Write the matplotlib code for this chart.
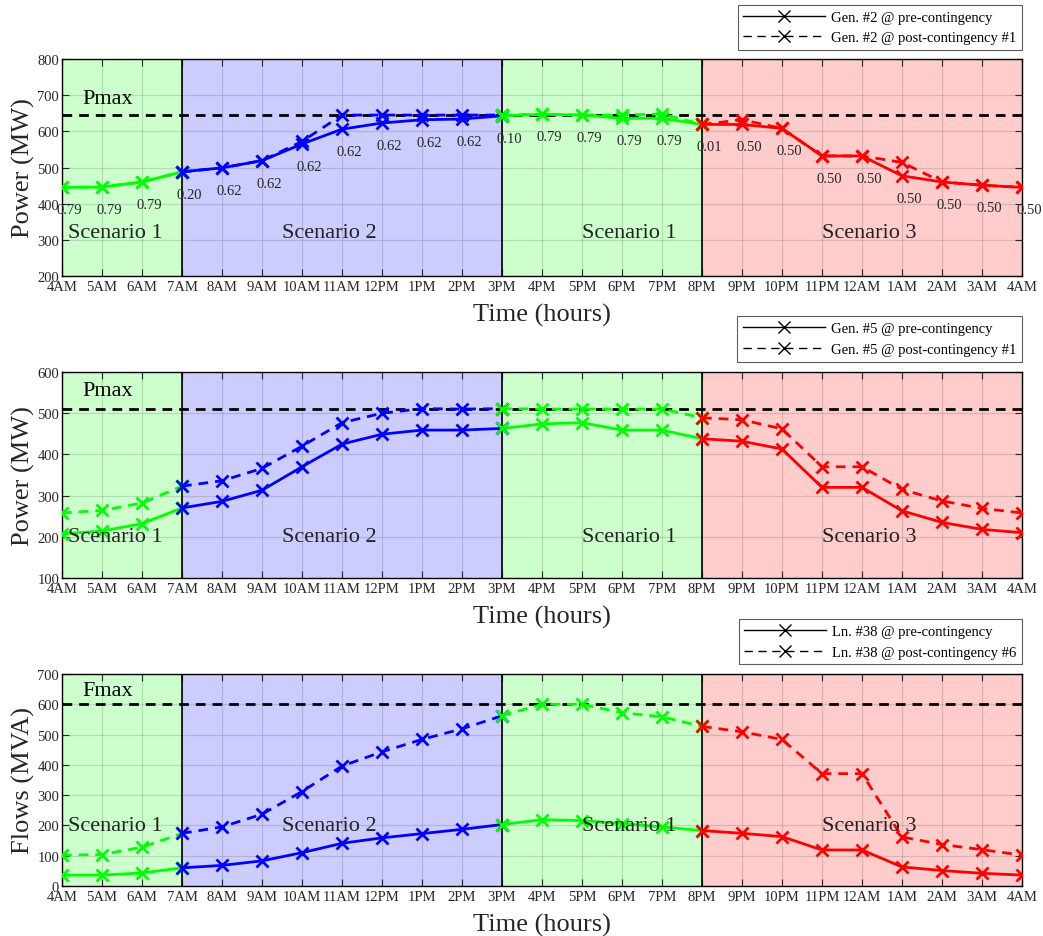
import matplotlib
matplotlib.use("Agg")
import matplotlib.pyplot as plt
from matplotlib.lines import Line2D

plt.rcParams['font.family'] = ['Liberation Serif', 'DejaVu Serif']

hours = ['4AM', '5AM', '6AM', '7AM', '8AM', '9AM', '10AM', '11AM', '12PM', '1PM', '2PM', '3PM',
         '4PM', '5PM', '6PM', '7PM', '8PM', '9PM', '10PM', '11PM', '12AM', '1AM', '2AM', '3AM', '4AM']

gen2_pre = [445, 446, 460, 488, 499, 519, 565, 606, 623, 632, 634, 643,
            647, 645, 636, 636, 619, 619, 608, 532, 532, 477, 460, 451, 445]
gen2_post = [445, 446, 460, 488, 499, 519, 572, 645, 645, 645, 645, 645,
             647, 645, 645, 648, 619, 632, 608, 532, 532, 514, 460, 451, 445]
gen2_labels = ['0.79', '0.79', '0.79', '0.20', '0.62', '0.62', '0.62', '0.62', '0.62', '0.62', '0.62', '0.10',
               '0.79', '0.79', '0.79', '0.79', '0.01', '0.50', '0.50', '0.50', '0.50', '0.50', '0.50', '0.50', '0.50']
gen2_pmax = 645

gen5_pre = [207, 214, 232, 270, 286, 313, 370, 425, 449, 459, 459, 463,
            474, 477, 459, 459, 438, 432, 413, 320, 320, 263, 235, 218, 210]
gen5_post = [258, 264, 282, 323, 336, 366, 420, 477, 500, 511, 510, 511,
             510, 510, 510, 510, 489, 484, 462, 370, 370, 315, 287, 269, 258]
gen5_pmax = 510

ln38_pre = [36, 36, 43, 60, 68, 83, 110, 141, 159, 173, 187, 203,
            219, 216, 206, 195, 183, 174, 163, 119, 119, 63, 51, 42, 36]
ln38_post = [102, 104, 128, 174, 195, 237, 312, 396, 443, 484, 519, 562,
             600, 600, 572, 559, 527, 509, 484, 371, 371, 162, 137, 120, 102]
ln38_fmax = 600

scenario_bounds = [0, 3, 11, 16, 24]
scenario_names = ['Scenario 1', 'Scenario 2', 'Scenario 1', 'Scenario 3']
scenario_line_colors = ['#00ff00', '#0000ff', '#00ff00', '#ff0000']
scenario_bg_colors = ['#ccffcc', '#ccccff', '#ccffcc', '#ffcccc']
scenario_text_x = [0.15, 5.5, 13.0, 19.0]

W, H = 1043, 937
fig = plt.figure(figsize=(W / 100, H / 100), dpi=100)

def ax_rect(top_px, bot_px):
    return [62 / W, 1 - bot_px / H, 960 / W, (bot_px - top_px) / H]

panels = [
    dict(rect=ax_rect(60, 277), pre=gen2_pre, post=gen2_post, lim=gen2_pmax, ylim=(200, 800),
         ylabel='Power (MW)', limtext='Pmax', limtext_y=690, scen_y=320,
         leg=['Gen. #2 @ pre-contingency', 'Gen. #2 @ post-contingency #1'], leg_y=1.04,
         labels=gen2_labels),
    dict(rect=ax_rect(373, 579), pre=gen5_pre, post=gen5_post, lim=gen5_pmax, ylim=(100, 600),
         ylabel='Power (MW)', limtext='Pmax', limtext_y=554, scen_y=200,
         leg=['Gen. #5 @ pre-contingency', 'Gen. #5 @ post-contingency #1'], leg_y=1.05,
         labels=None),
    dict(rect=ax_rect(675, 887), pre=ln38_pre, post=ln38_post, lim=ln38_fmax, ylim=(0, 700),
         ylabel='Flows (MVA)', limtext='Fmax', limtext_y=647, scen_y=200,
         leg=['Ln. #38 @ pre-contingency', 'Ln. #38 @ post-contingency #6'], leg_y=1.045,
         labels=None),
]

x = list(range(len(hours)))
txtc = '#262626'

for p in panels:
    ax = fig.add_axes(p['rect'])
    ax.set_axisbelow(True)
    for s in range(4):
        a, b = scenario_bounds[s], scenario_bounds[s + 1]
        ax.axvspan(a, b, facecolor=scenario_bg_colors[s], edgecolor='none', zorder=0)
    for v in scenario_bounds[1:-1]:
        ax.axvline(v, color='k', lw=1.2, zorder=1.6)
    ax.grid(True, color='k', alpha=0.13, lw=0.9)
    ax.axhline(p['lim'], color='k', lw=2, ls=(0, (3.5, 2.5)), zorder=2)
    for s in range(4):
        a, b = scenario_bounds[s], scenario_bounds[s + 1]
        c = scenario_line_colors[s]
        xs = x[a:b + 1]
        ax.plot(xs, p['post'][a:b + 1], color=c, lw=2, ls=(0, (3.5, 2.5)), marker='x', ms=9, mew=2, zorder=3)
        ax.plot(xs, p['pre'][a:b + 1], color=c, lw=2, ls='-', marker='x', ms=9, mew=2, zorder=3)
    ax.set_xlim(0, 24)
    ax.set_ylim(*p['ylim'])
    ax.set_xticks(x)
    ax.set_xticklabels(hours)
    ax.tick_params(axis='x', pad=3)
    ax.tick_params(direction='in', top=True, right=True, labelsize=10.5, colors=txtc,
                   length=5, width=0.8)
    ax.tick_params(axis='y', pad=2)
    for sp in ax.spines.values():
        sp.set_color('k')
        sp.set_linewidth(1.0)
    ax.set_ylabel(p['ylabel'], fontsize=19, color=txtc, labelpad=2)
    ax.set_xlabel('Time (hours)', fontsize=19, color=txtc, labelpad=7)
    ax.text(0.5, p['limtext_y'], p['limtext'], fontsize=16, color='k', va='center', ha='left', zorder=4)
    for s in range(4):
        ax.text(scenario_text_x[s], p['scen_y'], scenario_names[s], fontsize=16, color='#222222',
                va='center', ha='left', zorder=4)
    if p['labels'] is not None:
        for i, lab in enumerate(p['labels']):
            ax.text(i - 0.13, p['pre'][i] - 62, lab, fontsize=10.5, color=txtc, va='center', ha='left',
                    zorder=4, clip_on=False)
    handles = [Line2D([], [], color='k', lw=1, ls='-', marker='x', ms=8, mew=1),
               Line2D([], [], color='k', lw=1, ls=(0, (6, 4)), marker='x', ms=8, mew=1)]
    leg = ax.legend(handles, p['leg'], loc='lower right', bbox_to_anchor=(1.0, p['leg_y']),
                    fontsize=10.5, frameon=True, fancybox=False, handlelength=5.6,
                    borderpad=0.4, labelspacing=0.5, borderaxespad=0, handletextpad=0.4)
    leg.get_frame().set_edgecolor('#333333')
    leg.get_frame().set_linewidth(0.8)

fig.savefig('out.png', dpi=100)
